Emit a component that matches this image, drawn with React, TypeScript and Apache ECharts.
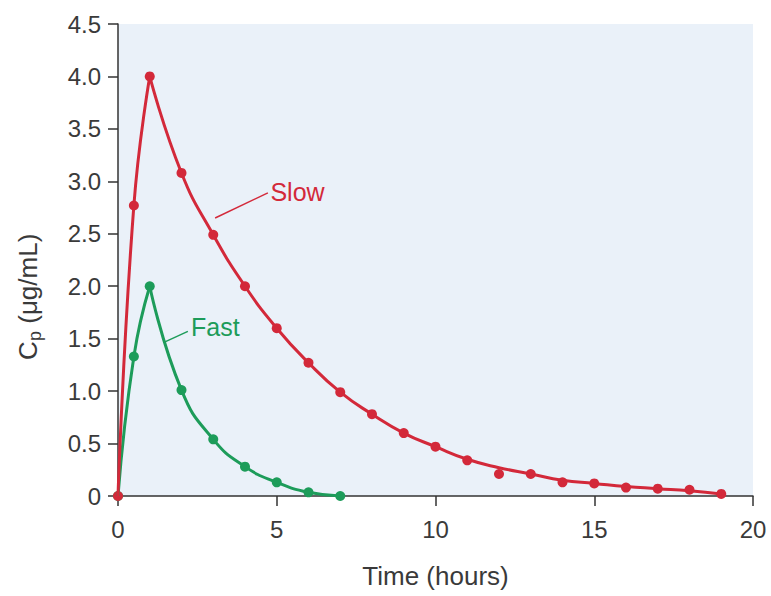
import React, { useEffect, useRef } from 'react';
import * as echarts from 'echarts';

// ---- data ----
const slowRiseT = [0, 0.5, 1];
const slowRiseCp = [0, 2.77, 4.0];
const slowDecayT = [1, 2, 3, 4, 5, 6, 7, 8, 9, 10, 11, 12, 13, 14, 15, 16, 17, 18, 19];
const slowCurveCp = [4.0, 3.08, 2.49, 2.0, 1.6, 1.27, 0.99, 0.78, 0.6, 0.47, 0.35, 0.27, 0.21, 0.15, 0.12, 0.09, 0.07, 0.05, 0.02];
const slowPointCp = [4.0, 3.08, 2.49, 2.0, 1.6, 1.27, 0.99, 0.78, 0.6, 0.47, 0.34, 0.21, 0.21, 0.13, 0.12, 0.08, 0.07, 0.06, 0.02];

const fastRiseT = [0, 0.5, 1];
const fastRiseCp = [0, 1.33, 2.0];
const fastDecayT = [1, 2, 3, 4, 5, 6, 7];
const fastDecayCp = [2.0, 1.01, 0.54, 0.28, 0.13, 0.035, 0];

const xTicks = [0, 5, 10, 15, 20];
const yTicks = [0, 0.5, 1.0, 1.5, 2.0, 2.5, 3.0, 3.5, 4.0, 4.5];

// annotation anchors in data units
const slowLeader = [[3.06, 2.65], [4.72, 2.89]];
const slowLabelAt = [4.8, 2.9];
const fastLeader = [[1.48, 1.47], [2.2, 1.57]];
const fastLabelAt = [2.3, 1.61];

const RED = '#d3293a';
const GREEN = '#1d9c5a';
const TEXT = '#3a3a3a';
const FONT = 'Liberation Sans, Arial, Helvetica, sans-serif';

const zip = (t: number[], v: number[]) => t.map((x, i) => [x, v[i]]);

export default function App() {
  const ref = useRef<HTMLDivElement>(null);
  useEffect(() => {
    document.body.style.margin = '0';
    const chart = echarts.init(ref.current!, null, { renderer: 'svg' });
    const lineBase = {
      type: 'line',
      smooth: 0.5,
      showSymbol: false,
      symbol: 'none',
      silent: true,
    };
    const option: any = {
      animation: false,
      grid: {
        left: 118, right: 18, top: 24, bottom: 100,
        show: true, backgroundColor: '#eaf1f9', borderWidth: 0,
        containLabel: false, outerBoundsMode: 'none',
      },
      xAxis: {
        type: 'value', min: xTicks[0], max: xTicks[xTicks.length - 1], interval: 5,
        name: 'Time (hours)', nameLocation: 'middle', nameGap: 67,
        nameTextStyle: { fontSize: 26, color: TEXT, fontFamily: FONT },
        axisLine: { show: true, onZero: false, lineStyle: { color: '#333', width: 1.5 } },
        axisTick: { show: true, length: 10, lineStyle: { color: '#333', width: 1.5 } },
        axisLabel: { fontSize: 24, color: TEXT, fontFamily: FONT, margin: 21 },
        splitLine: { show: false },
      },
      yAxis: {
        type: 'value', min: yTicks[0], max: yTicks[yTicks.length - 1], interval: 0.5,
        axisLine: { show: true, onZero: false, lineStyle: { color: '#333', width: 1.5 } },
        axisTick: { show: true, length: 10, lineStyle: { color: '#333', width: 1.5 } },
        axisLabel: {
          fontSize: 24, color: TEXT, fontFamily: FONT, margin: 17,
          formatter: (v: number) => (v === 0 ? '0' : v.toFixed(1)),
        },
        splitLine: { show: false },
      },
      series: [
        { ...lineBase, name: 'fastRise', data: zip(fastRiseT, fastRiseCp), lineStyle: { color: GREEN, width: 3 } },
        { ...lineBase, name: 'fastDecay', data: zip(fastDecayT, fastDecayCp), lineStyle: { color: GREEN, width: 3 } },
        {
          type: 'scatter', name: 'fastPts', symbolSize: 10, silent: true,
          data: zip(fastRiseT, fastRiseCp).concat(zip(fastDecayT.slice(1), fastDecayCp.slice(1))),
          itemStyle: { color: GREEN, opacity: 1 },
        },
        { ...lineBase, name: 'slowRise', data: zip(slowRiseT, slowRiseCp), lineStyle: { color: RED, width: 3 } },
        { ...lineBase, name: 'slowDecay', data: zip(slowDecayT, slowCurveCp), lineStyle: { color: RED, width: 3 } },
        {
          type: 'scatter', name: 'slowPts', symbolSize: 10, silent: true,
          data: zip(slowRiseT, slowRiseCp).concat(zip(slowDecayT.slice(1), slowPointCp.slice(1))),
          itemStyle: { color: RED, opacity: 1 },
        },
      ],
    };
    chart.setOption(option);

    const px = (p: number[]) => chart.convertToPixel({ gridIndex: 0 }, p) as number[];
    const mkLeader = (seg: number[][], color: string) => {
      const a = px(seg[0]);
      const b = px(seg[1]);
      return {
        type: 'line', silent: true,
        shape: { x1: a[0], y1: a[1], x2: b[0], y2: b[1] },
        style: { stroke: color, lineWidth: 1.5 },
      };
    };
    const mkLabel = (at: number[], text: string, color: string) => {
      const p = px(at);
      return {
        type: 'text', x: p[0], y: p[1], silent: true,
        style: { text, fill: color, fontSize: 25, fontFamily: FONT, align: 'left', verticalAlign: 'middle' },
      };
    };
    const wC = 19, wp = 10;
    const yNameW = 136;
    chart.setOption({
      graphic: [
        mkLeader(slowLeader, RED),
        mkLabel(slowLabelAt, 'Slow', RED),
        mkLeader(fastLeader, GREEN),
        mkLabel(fastLabelAt, 'Fast', GREEN),
        {
          type: 'group', x: 28, y: 292, rotation: Math.PI / 2, silent: true,
          children: [
            { type: 'text', x: -yNameW / 2, y: 0, style: { text: 'C', fill: TEXT, fontSize: 26, fontFamily: FONT, align: 'left', verticalAlign: 'middle' } },
            { type: 'text', x: -yNameW / 2 + wC, y: 7, style: { text: 'p', fill: TEXT, fontSize: 18, fontFamily: FONT, align: 'left', verticalAlign: 'middle' } },
            { type: 'text', x: -yNameW / 2 + wC + wp, y: 0, style: { text: ' (μg/mL)', fill: TEXT, fontSize: 26, fontFamily: FONT, align: 'left', verticalAlign: 'middle' } },
          ],
        },
      ],
    });
    return () => chart.dispose();
  }, []);
  return <div ref={ref} style={{ width: 771, height: 596 }} />;
}
